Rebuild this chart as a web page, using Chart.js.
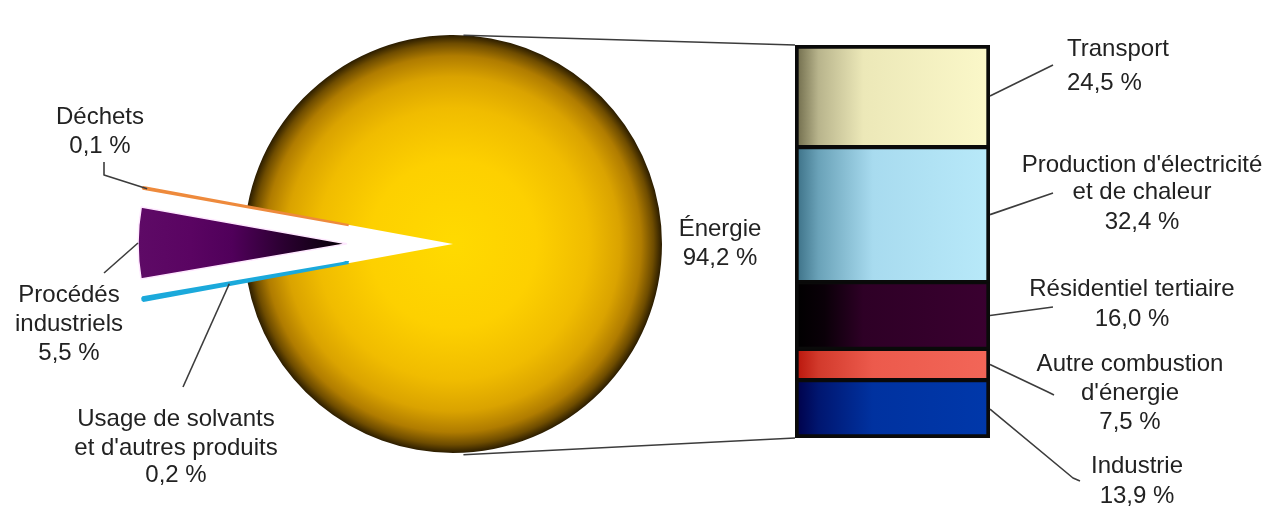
<!DOCTYPE html>
<html>
<head>
<meta charset="utf-8">
<script src="https://cdn.jsdelivr.net/npm/chart.js@4.4.1/dist/chart.umd.min.js"></script>
<style>
html,body{margin:0;padding:0;background:#fff;width:1277px;height:517px;overflow:hidden}
#wrap{position:relative;width:1277px;height:517px}
#wrap canvas{position:absolute;left:0;top:0}
.lbl{position:absolute;font-family:"Liberation Sans",Arial,sans-serif;font-size:24px;color:#222;white-space:nowrap;line-height:30px;height:30px}
.c{transform:translateX(-50%)}
</style>
</head>
<body>
<div id="wrap">
  <canvas id="pie" width="1277" height="517"></canvas>
  <canvas id="bar" width="1277" height="517"></canvas>
</div>
<script>
// ---------- DATA ----------
const pieCategories = ["Énergie", "Usage de solvants\net d'autres produits", "Procédés\nindustriels", "Déchets"];
const pieValues = [94.2, 0.2, 5.5, 0.1];

const barCategories = ["Transport", "Production d'électricité\net de chaleur", "Résidentiel tertiaire", "Autre combustion\nd'énergie", "Industrie"];
const barValues = [24.5, 32.4, 16.0, 7.5, 13.9];

// ---------- STYLE / LAYOUT ----------
const PIE_RADIUS = 209;
const EXPLODE = [0, 106, 106, 106];
const LINE_COLOR = '#3c3c3c';

const pieGradients = [
  [[0,'#FFDA00'],[0.4,'#FDD000'],[0.65,'#F0BC00'],[0.8,'#DAA300'],[0.9,'#B07C00'],[0.96,'#6E4C00'],[1,'#2A1C00']],
  null,
  [[0,'#050005'],[0.3,'#2a0030'],[0.55,'#50005a'],[0.75,'#5a0462'],[1,'#5e0a66']],
  null
];
const pieSolid = ['#FFD000', '#1BA9DB', '#5a0462', '#EE8A3C'];
const pieBorderColor = ['#ffffff', '#1BA9DB', '#ffe8ff', '#EE8A3C'];
const pieBorderWidth = [0, 3, 1.5, 2.5];

const barGradients = [
  [[0,'#6c6848'],[0.12,'#b8b48c'],[0.35,'#ece8b8'],[1,'#FBF8C9']],
  [[0,'#3a6e84'],[0.12,'#6aa2b8'],[0.4,'#a8dbef'],[1,'#B8E9F9']],
  [[0,'#000000'],[0.15,'#0a0008'],[0.35,'#2e0026'],[1,'#3a0030']],
  [[0,'#B8140A'],[0.12,'#d23a2c'],[0.4,'#ec5a4c'],[1,'#F26658']],
  [[0,'#000048'],[0.12,'#001670'],[0.4,'#0032a0'],[1,'#0038AA']]
];

const pieLabelLayout = [
  {x:720, ys:[228,257]},
  {x:176, ys:[418,447,474]},
  {x:69,  ys:[294,323,352]},
  {x:100, ys:[116,145]}
];
const pieLeader = [
  null,
  {t:0.58, pts:[[183,387]]},
  {t:1.0,  pts:[[104,273]]},
  {t:0.98, pts:[[104,175],[104,162]]}
];
const barLabelLayout = [
  {x:1067, left:true, ys:[48,82]},
  {x:1142, ys:[164,191,221]},
  {x:1132, ys:[288,318]},
  {x:1130, ys:[363,392,421]},
  {x:1137, ys:[465,495]}
];
const barLeader = [
  [[1053,65]],
  [[1053,193]],
  [[1053,307]],
  [[1048,392],[1054,395]],
  [[1073,478],[1080,481]]
];

const fmt = v => v.toFixed(1).replace('.', ',') + ' %';

function addStops(g, stops){ stops.forEach(s => g.addColorStop(s[0], s[1])); return g; }

function polyline(ctx, pts){
  ctx.beginPath();
  ctx.moveTo(pts[0][0], pts[0][1]);
  for (let i = 1; i < pts.length; i++) ctx.lineTo(pts[i][0], pts[i][1]);
  ctx.stroke();
}

// ---------- PIE ----------
const pieTotal = pieValues.reduce((a,b)=>a+b,0);
const pieRotation = 270 - 360 * (pieValues[0] + (pieTotal - pieValues[0]) / 2) / pieTotal;

function pieFill(c){
  const i = c.dataIndex;
  const area = c.chart.chartArea;
  if (!area || !pieGradients[i]) return pieSolid[i];
  const cx = (area.left + area.right) / 2, cy = (area.top + area.bottom) / 2;
  return addStops(c.chart.ctx.createRadialGradient(cx, cy, 0, cx, cy, PIE_RADIUS), pieGradients[i]);
}

const pieDrawPlugin = {
  id: 'pieDraw',
  beforeDatasetDraw(chart, args){
    const ctx = chart.ctx;
    const meta = chart.getDatasetMeta(args.index);
    meta.data.forEach((arc, i) => {
      const mid = (arc.startAngle + arc.endAngle) / 2;
      ctx.save();
      ctx.translate(Math.cos(mid) * EXPLODE[i], Math.sin(mid) * EXPLODE[i]);
      arc.draw(ctx);
      ctx.restore();
    });
    return false;
  },
  afterDraw(chart){
    const ctx = chart.ctx;
    const meta = chart.getDatasetMeta(0);
    ctx.save();
    ctx.strokeStyle = LINE_COLOR;
    ctx.lineWidth = 1.6;
    ctx.lineJoin = 'round';
    meta.data.forEach((arc, i) => {
      const L = pieLeader[i];
      if (!L) return;
      const mid = (arc.startAngle + arc.endAngle) / 2;
      const ax = arc.x + Math.cos(mid) * EXPLODE[i];
      const ay = arc.y + Math.sin(mid) * EXPLODE[i];
      const sx = ax + Math.cos(mid) * arc.outerRadius * L.t;
      const sy = ay + Math.sin(mid) * arc.outerRadius * L.t;
      polyline(ctx, [[sx, sy]].concat(L.pts));
    });
    ctx.restore();
  }
};

const pieChart = new Chart(document.getElementById('pie'), {
  type: 'pie',
  data: {
    labels: pieCategories,
    datasets: [{
      data: pieValues,
      backgroundColor: pieFill,
      borderColor: pieBorderColor,
      borderWidth: pieBorderWidth,
      hoverOffset: 0
    }]
  },
  options: {
    responsive: false,
    animation: false,
    events: [],
    rotation: pieRotation,
    radius: PIE_RADIUS,
    layout: { padding: { left: 0, right: 371, top: 0, bottom: 29 } },
    plugins: { legend: { display: false }, tooltip: { enabled: false } }
  },
  plugins: [pieDrawPlugin]
});

// ---------- BAR ----------
const barTotal = barValues.reduce((a,b)=>a+b,0);

function barFill(c, i){
  const area = c.chart.chartArea;
  const st = barGradients[i];
  if (!area) return st[st.length-1][1];
  return addStops(c.chart.ctx.createLinearGradient(area.left, 0, area.right, 0), st);
}
function barBorder(i){
  return {
    left: 4, right: 4,
    top: i === 0 ? 4 : 2.5,
    bottom: i === barValues.length - 1 ? 4 : 2.5
  };
}

const barLinesPlugin = {
  id: 'barLines',
  afterDraw(chart){
    const ctx = chart.ctx;
    ctx.save();
    ctx.strokeStyle = LINE_COLOR;
    ctx.lineWidth = 1.6;
    ctx.lineJoin = 'round';
    const p = pieChart.getDatasetMeta(0).data[0];
    const a = chart.chartArea;
    const ang = 0.05;
    polyline(ctx, [[p.x + p.outerRadius * Math.sin(ang), p.y - p.outerRadius * Math.cos(ang)], [a.left, a.top]]);
    polyline(ctx, [[p.x + p.outerRadius * Math.sin(ang), p.y + p.outerRadius * Math.cos(ang) + 2], [a.left, a.bottom]]);
    barValues.forEach((v, i) => {
      const el = chart.getDatasetMeta(i).data[0];
      const right = el.x + el.width / 2;
      const midY = (el.y + el.base) / 2;
      polyline(ctx, [[right, midY]].concat(barLeader[i]));
    });
    ctx.restore();
  }
};

new Chart(document.getElementById('bar'), {
  type: 'bar',
  data: {
    labels: [''],
    datasets: barCategories.map((name, i) => ({
      label: name,
      data: [barValues[i]],
      backgroundColor: c => barFill(c, i),
      borderColor: '#0a0a0a',
      borderWidth: barBorder(i),
      borderSkipped: false,
      barPercentage: 1,
      categoryPercentage: 1
    }))
  },
  options: {
    responsive: false,
    animation: false,
    events: [],
    layout: { padding: { left: 795, right: 287, top: 45, bottom: 79 } },
    plugins: { legend: { display: false }, tooltip: { enabled: false } },
    scales: {
      x: { display: false, stacked: true },
      y: { display: false, stacked: true, reverse: true, min: 0, max: barTotal }
    }
  },
  plugins: [barLinesPlugin]
});

// ---------- LABELS (HTML text) ----------
const wrap = document.getElementById('wrap');
function addLabel(lines, lay){
  lines.forEach((txt, k) => {
    const d = document.createElement('div');
    d.className = 'lbl' + (lay.left ? '' : ' c');
    d.textContent = txt;
    d.style.left = lay.x + 'px';
    d.style.top = (lay.ys[k] - 15) + 'px';
    wrap.appendChild(d);
  });
}
pieCategories.forEach((name, i) => addLabel(name.split('\n').concat([fmt(pieValues[i])]), pieLabelLayout[i]));
barCategories.forEach((name, i) => addLabel(name.split('\n').concat([fmt(barValues[i])]), barLabelLayout[i]));
</script>
</body>
</html>
